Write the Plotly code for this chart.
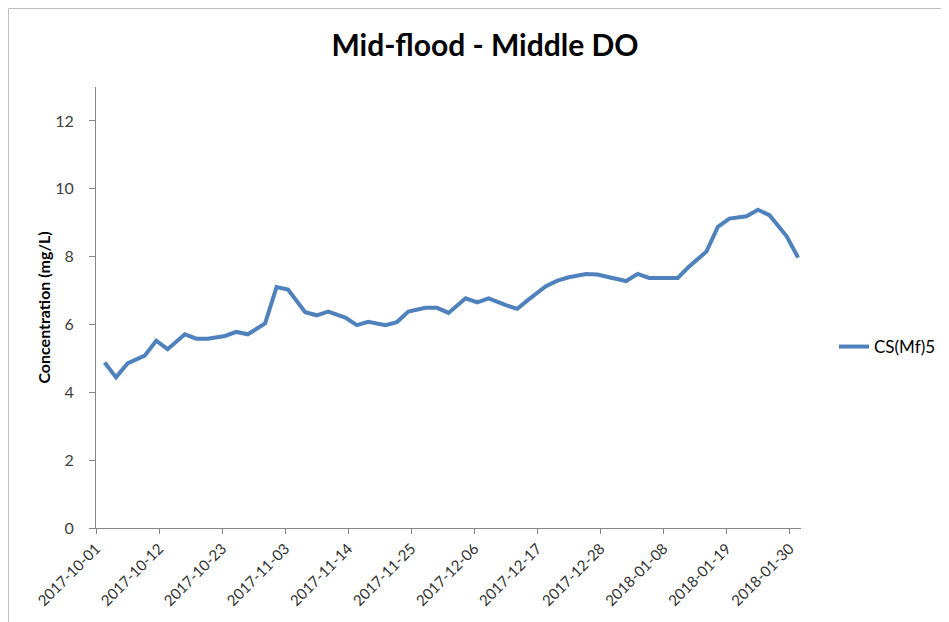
import pandas as pd
import plotly.graph_objects as go

dates = [
    "2017-10-02", "2017-10-04", "2017-10-06", "2017-10-09", "2017-10-11", "2017-10-13",
    "2017-10-16", "2017-10-18", "2017-10-20", "2017-10-23", "2017-10-25", "2017-10-27",
    "2017-10-30", "2017-11-01", "2017-11-03", "2017-11-06", "2017-11-08", "2017-11-10",
    "2017-11-13", "2017-11-15", "2017-11-17", "2017-11-20", "2017-11-22", "2017-11-24",
    "2017-11-27", "2017-11-29", "2017-12-01", "2017-12-04", "2017-12-06", "2017-12-08",
    "2017-12-11", "2017-12-13", "2017-12-15", "2017-12-18", "2017-12-20", "2017-12-22",
    "2017-12-25", "2017-12-27", "2017-12-29", "2018-01-01", "2018-01-03", "2018-01-05",
    "2018-01-08", "2018-01-10", "2018-01-12", "2018-01-15", "2018-01-17", "2018-01-19",
    "2018-01-22", "2018-01-24", "2018-01-26", "2018-01-29", "2018-01-31",
]
cs_mf5 = [
    4.88, 4.44, 4.85, 5.08, 5.52, 5.27,
    5.71, 5.58, 5.58, 5.66, 5.78, 5.71,
    6.03, 7.10, 7.03, 6.36, 6.27, 6.38,
    6.20, 5.98, 6.08, 5.98, 6.07, 6.38,
    6.49, 6.49, 6.34, 6.77, 6.65, 6.77,
    6.57, 6.46, 6.74, 7.13, 7.29, 7.39,
    7.49, 7.47, 7.39, 7.28, 7.49, 7.37,
    7.37, 7.37, 7.71, 8.15, 8.88, 9.12,
    9.19, 9.38, 9.22, 8.60, 7.97,
]

title_text = "Mid-flood - Middle DO"
y_title = "Concentration (mg/L)"
series_name = "CS(Mf)5"
x_range = ["2017-10-01", "2018-02-01"]
y_ticks = [0, 2, 4, 6, 8, 10, 12]

# Excel date axis places points in the middle of each day
x_vals = pd.to_datetime(dates) + pd.Timedelta(hours=12)

# the page body has an 8px margin; figure origin sits at page (8, 8)
OFF = 8
W, H = 941, 614
L, R, T, B = 96 - OFF, 148, 87 - OFF, 94
pw, ph = W - L - R, H - T - B

fig = go.Figure()
fig.add_trace(go.Scatter(
    x=x_vals, y=cs_mf5, mode="lines", name=series_name,
    line=dict(color="#4F81BD", width=4),
))

font_family = "Lato, 'Open Sans', sans-serif"
axis_color = "#868686"

fig.update_layout(
    width=W, height=H,
    margin=dict(l=L, r=R, t=T, b=B, autoexpand=False),
    paper_bgcolor="white", plot_bgcolor="white",
    font=dict(family=font_family, color="#404040", size=15),
    title=dict(text="<b>" + title_text + "</b>", x=(485 - OFF - L) / pw, xref="paper",
               xanchor="center", y=1 - (45 - OFF) / H, yanchor="middle",
               font=dict(size=30, color="black", family=font_family)),
    showlegend=True,
    legend=dict(x=(834 - OFF - L) / pw, y=(528 - 347) / ph, xanchor="left",
                yanchor="middle", font=dict(size=17, color="black"),
                bgcolor="rgba(0,0,0,0)", itemwidth=30),
    xaxis=dict(
        type="date", range=x_range, tick0="2017-10-01", dtick=11 * 86400000,
        tickformat="%Y-%m-%d", tickangle=-45, showgrid=False, zeroline=False,
        showline=True, linecolor=axis_color, linewidth=1,
        ticks="outside", ticklen=5, tickcolor=axis_color,
        tickfont=dict(size=15, color="#303030"),
    ),
    yaxis=dict(
        range=[0, 13], tickvals=y_ticks, showgrid=False, zeroline=False,
        showline=True, linecolor=axis_color, linewidth=1,
        ticks="outside", ticklen=6, tickcolor=axis_color,
        tickfont=dict(size=16, color="#404040"),
        ticklabelstandoff=12,
        title=dict(text="<b>" + y_title + "</b>", font=dict(size=16, color="black"),
                   standoff=0),
    ),
    shapes=[
        dict(type="line", xref="paper", yref="paper",
             x0=(0.5 - L) / pw, x1=(W + 5 - L) / pw, y0=(H - B - 0.5) / ph, y1=(H - B - 0.5) / ph,
             line=dict(color="#BFBFBF", width=1)),
        dict(type="line", xref="paper", yref="paper",
             x0=(0.5 - L) / pw, x1=(0.5 - L) / pw, y0=(H - B - 0.5) / ph, y1=-(B + 5) / ph,
             line=dict(color="#BFBFBF", width=1)),
    ],
)

fig.write_html("out.html")
